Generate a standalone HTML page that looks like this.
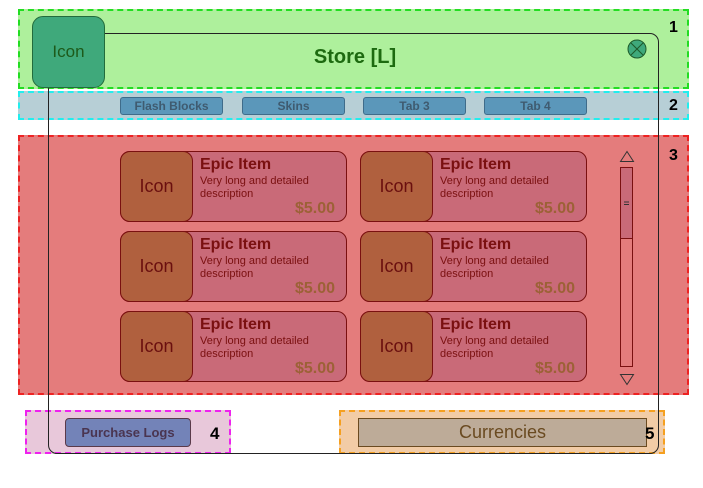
<!DOCTYPE html>
<html><head><meta charset="utf-8"><style>
body{margin:0;width:703px;height:488px;background:#fff;position:relative;font-family:"Liberation Sans",sans-serif;overflow:hidden}
.a{position:absolute;box-sizing:border-box}
.card{position:absolute;box-sizing:border-box;width:227px;height:71px;border:1px solid #7a1010;border-radius:10px;background:#c96a78}
.card .ic{position:absolute;box-sizing:border-box;left:-1px;top:-1px;width:73px;height:71px;border:1px solid #7a1010;border-radius:10px;background:#b0603e;color:#6a0f0f;font-size:18px;text-align:center;line-height:69px}
.card .t{position:absolute;left:79px;top:4px;font-weight:bold;font-size:16px;color:#7a1010}
.card .d{position:absolute;left:79px;top:23px;font-size:11px;line-height:13px;color:#7a1010}
.card .p{position:absolute;right:11px;bottom:3px;font-weight:bold;font-size:16px;color:#9c6136}
.tab{position:absolute;top:97px;height:18px;width:103px;border:1px solid #3f6c8a;border-radius:3px;background:#5b97ba;color:#3f5b70;font-weight:bold;font-size:12px;text-align:center;line-height:16px;box-sizing:border-box}
.n{position:absolute;font-weight:bold;font-size:16px;color:#000}
</style></head><body>
<div class="a" style="left:18px;top:9px;width:671px;height:80px;background:#aef09c;border:2px dashed #22dd22"></div>
<div class="a" style="left:18px;top:91px;width:671px;height:29px;background:#b7cfd6;border:2px dashed #22eeee"></div>
<div class="a" style="left:18px;top:135px;width:671px;height:260px;background:#e47c7c;border:2px dashed #ee2222"></div>
<div class="a" style="left:25px;top:410px;width:206px;height:44px;background:#e8c8da;border:2px dashed #ee22ee"></div>
<div class="a" style="left:339px;top:410px;width:326px;height:44px;background:#f2cca6;border:2px dashed #f5a020"></div>
<div class="a" style="left:48px;top:33px;width:611px;height:421px;border:1px solid #222;border-radius:9px"></div>
<div class="a" style="left:32px;top:16px;width:73px;height:72px;background:#3fa97b;border:1px solid #226c3c;border-radius:11px;color:#1d5a1a;font-size:17px;text-align:center;line-height:70px">Icon</div>
<div class="a" style="left:250px;top:46px;width:210px;text-align:center;font-weight:bold;font-size:20px;color:#1d6a10">Store [L]</div>
<svg class="a" style="left:626px;top:38px" width="22" height="22"><circle cx="11" cy="11" r="9" fill="#3fa97b" stroke="#1d5a2a"/><path d="M5 5L17 17M17 5L5 17" stroke="#1d5a2a"/></svg>
<div class="tab" style="left:120px">Flash Blocks</div>
<div class="tab" style="left:242px">Skins</div>
<div class="tab" style="left:363px">Tab 3</div>
<div class="tab" style="left:484px">Tab 4</div>
<div class="card" style="left:120px;top:151px"><div class="ic">Icon</div><div class="t">Epic Item</div><div class="d">Very long and detailed<br>description</div><div class="p">$5.00</div></div>
<div class="card" style="left:360px;top:151px"><div class="ic">Icon</div><div class="t">Epic Item</div><div class="d">Very long and detailed<br>description</div><div class="p">$5.00</div></div>
<div class="card" style="left:120px;top:231px"><div class="ic">Icon</div><div class="t">Epic Item</div><div class="d">Very long and detailed<br>description</div><div class="p">$5.00</div></div>
<div class="card" style="left:360px;top:231px"><div class="ic">Icon</div><div class="t">Epic Item</div><div class="d">Very long and detailed<br>description</div><div class="p">$5.00</div></div>
<div class="card" style="left:120px;top:311px"><div class="ic">Icon</div><div class="t">Epic Item</div><div class="d">Very long and detailed<br>description</div><div class="p">$5.00</div></div>
<div class="card" style="left:360px;top:311px"><div class="ic">Icon</div><div class="t">Epic Item</div><div class="d">Very long and detailed<br>description</div><div class="p">$5.00</div></div>
<svg class="a" style="left:615px;top:148px" width="25" height="240">
<path d="M5.5 13.5L12 3.5L18.5 13.5Z" fill="none" stroke="#333"/>
<rect x="5.5" y="19.5" width="12" height="199" fill="none" stroke="#7a1010"/>
<rect x="5.5" y="19.5" width="12" height="71" fill="#c96a78" stroke="#7a1010"/>
<path d="M9 54h5M9 56.5h5" stroke="#333"/>
<path d="M5.5 226.5L12 236.5L18.5 226.5Z" fill="none" stroke="#333"/>
</svg>
<div class="a" style="left:65px;top:418px;width:126px;height:29px;background:#7383b8;border:1px solid #5a3a4a;border-radius:4px;color:#4a3550;font-weight:bold;font-size:13px;text-align:center;line-height:27px">Purchase Logs</div>
<div class="a" style="left:358px;top:418px;width:289px;height:29px;background:#bdab98;border:1px solid #6a4a20;color:#6a4a20;font-size:18px;text-align:center;line-height:27px">Currencies</div>
<div class="n" style="left:669px;top:19px">1</div>
<div class="n" style="left:669px;top:97px">2</div>
<div class="n" style="left:669px;top:147px">3</div>
<div class="n" style="left:210px;top:424px;font-size:17px">4</div>
<div class="n" style="left:645px;top:424px;font-size:17px">5</div>
</body></html>
